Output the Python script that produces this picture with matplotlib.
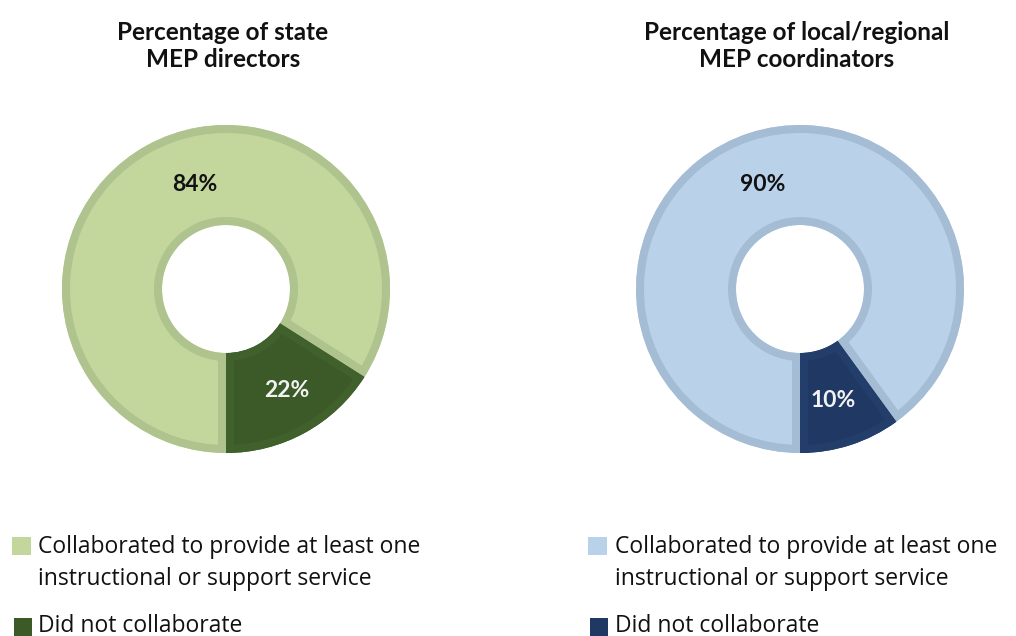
import matplotlib
matplotlib.use("Agg")
import matplotlib.pyplot as plt
from matplotlib.patches import Wedge, Rectangle

# ---------------- data ----------------
titles = ["Percentage of state\nMEP directors",
          "Percentage of local/regional\nMEP coordinators"]
categories = ["Collaborated to provide at least one\ninstructional or support service",
              "Did not collaborate"]
# wedge shares as drawn (order: collaborated, did not collaborate)
state_share = [84, 16]
state_labels = ["84%", "22%"]
local_share = [90, 10]
local_labels = ["90%", "10%"]

# ---------------- style ----------------
W, H = 1016, 636
DPI = 100
plt.rcParams['font.family'] = ['Lato', 'DejaVu Sans']
LEG_FONT = ['Open Sans', 'DejaVu Sans']

panels = [
    dict(share=state_share, labels=state_labels, title=titles[0],
         fills=["#c3d69b", "#3b5a27"], edges=["#aec38e", "#40602c"],
         txtcol=["#111111", "#f2f2f2"], cx=226, cy=289,
         title_x=223, leg_patch_x=12, leg_text_x=38),
    dict(share=local_share, labels=local_labels, title=titles[1],
         fills=["#b9d2ea", "#1f3864"], edges=["#a5bcd5", "#243e6c"],
         txtcol=["#111111", "#f2f2f2"], cx=800, cy=289,
         title_x=797, leg_patch_x=588, leg_text_x=615),
]
label_offsets = [[(-0.19, 0.635), (0.37, -0.62)],
                 [(-0.225, 0.635), (0.20, -0.68)]]

R_PX = 164      # outer radius in pixels
HOLE_PX = 64    # hole radius in pixels
BORDER_PX = 8   # inside border thickness
BOX = 360

fig = plt.figure(figsize=(W / DPI, H / DPI), dpi=DPI)
fig.patch.set_facecolor("white")

for i, p in enumerate(panels):
    ax = fig.add_axes([(p['cx'] - BOX / 2) / W, (H - p['cy'] - BOX / 2) / H,
                       BOX / W, BOX / H])
    lim = (BOX / 2) / R_PX
    wedges, _ = ax.pie(p['share'], colors=p['fills'], radius=1.0,
                       startangle=-90, counterclock=False,
                       wedgeprops=dict(width=1 - HOLE_PX / R_PX, edgecolor='none',
                                       linewidth=0))
    lw_pt = 2 * BORDER_PX * 72 / DPI
    for w, ec in zip(wedges, p['edges']):
        b = Wedge(w.center, w.r, w.theta1, w.theta2, width=w.width,
                  facecolor='none', edgecolor=ec, linewidth=lw_pt)
        ax.add_patch(b)
        b.set_clip_path(w)
    for (dx, dy), lab, c in zip(label_offsets[i], p['labels'], p['txtcol']):
        ax.text(dx, dy, lab, ha='center', va='center', fontsize=16.5,
                fontweight='bold', color=c)
    ax.set_xlim(-lim, lim)
    ax.set_ylim(-lim, lim)
    ax.set_aspect('equal')
    ax.axis('off')

    # title
    l1, l2 = p['title'].split("\n")
    fig.text(p['title_x'] / W, 1 - 40 / H, l1, ha='center', va='baseline',
             fontsize=17.5, fontweight='bold', color='#111111')
    fig.text(p['title_x'] / W, 1 - 67 / H, l2, ha='center', va='baseline',
             fontsize=17.5, fontweight='bold', color='#111111')

    # legend
    c1a, c1b = categories[0].split("\n")
    fig.patches.append(Rectangle((p['leg_patch_x'] / W, 1 - 555 / H), 19 / W, 18 / H,
                                 transform=fig.transFigure, facecolor=p['fills'][0],
                                 edgecolor='none'))
    fig.text(p['leg_text_x'] / W, 1 - 553 / H, c1a, ha='left', va='baseline',
             fontsize=16.5, color='#111111', family=LEG_FONT)
    fig.text(p['leg_text_x'] / W, 1 - 585 / H, c1b, ha='left', va='baseline',
             fontsize=16.5, color='#111111', family=LEG_FONT)
    fig.patches.append(Rectangle((p['leg_patch_x'] / W + 2 / W, 1 - 636 / H), 18 / W, 18 / H,
                                 transform=fig.transFigure, facecolor=p['fills'][1],
                                 edgecolor='none'))
    fig.text(p['leg_text_x'] / W, 1 - 632 / H, categories[1], ha='left', va='baseline',
             fontsize=16.5, color='#111111', family=LEG_FONT)

fig.savefig("out.png", dpi=DPI, facecolor="white")
